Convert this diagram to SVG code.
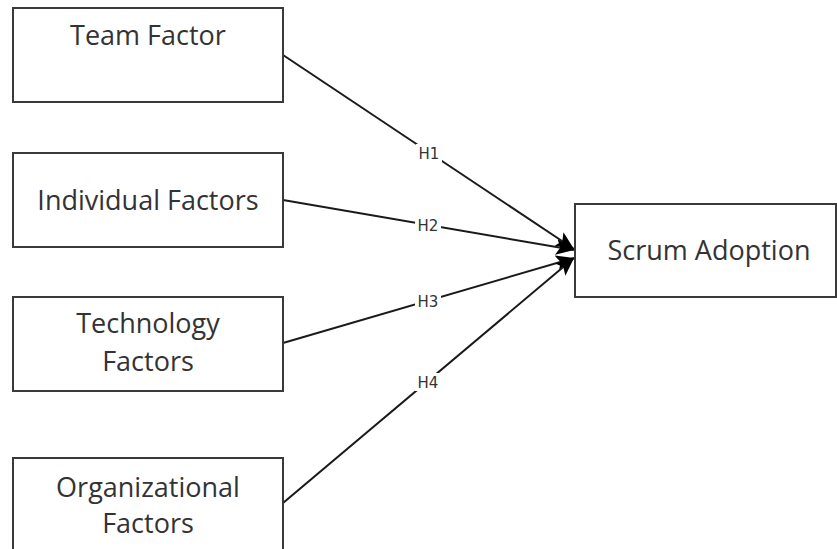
<svg xmlns="http://www.w3.org/2000/svg" width="837" height="549" viewBox="0 0 837 549">
<style>
.box{fill:#fff;stroke:#3a3a3a;stroke-width:2}
.t{font-family:"Open Sans","Noto Sans",sans-serif;font-size:27px;fill:#333;text-anchor:middle}
.edge{fill:none;stroke:#1a1a1a;stroke-width:2}
.lbg{fill:#fff}
.lb{font-family:"DejaVu Sans","Liberation Sans",sans-serif;font-size:15px;fill:#333;text-anchor:middle}
</style>
<defs>
<marker id="ah" markerUnits="userSpaceOnUse" markerWidth="20" markerHeight="16" refX="18" refY="8" orient="auto">
<path d="M0,0 L18,8 L0,16 L4,8 Z" fill="#000"/>
</marker>
</defs>
<rect width="837" height="549" fill="#fff"/>
<g id="connectors">
<path class="edge" d="M283,55 L574,249" marker-end="url(#ah)"/>
<path class="edge" d="M283,200 L574,250" marker-end="url(#ah)"/>
<path class="edge" d="M283,343 L574,258" marker-end="url(#ah)"/>
<path class="edge" d="M283,503 L574,258" marker-end="url(#ah)"/>
<rect class="lbg" x="416" y="144" width="26" height="18"/>
<text class="lb" x="429" y="159">H1</text>
<rect class="lbg" x="415" y="216" width="26" height="18"/>
<text class="lb" x="428" y="231">H2</text>
<rect class="lbg" x="415" y="292" width="26" height="18"/>
<text class="lb" x="428" y="307">H3</text>
<rect class="lbg" x="415" y="373" width="26" height="18"/>
<text class="lb" x="428" y="388">H4</text>
</g>
<g id="team">
<rect class="box" x="13" y="8" width="270" height="94"/>
<text class="t" x="148" y="45">Team Factor</text>
</g>
<g id="individual">
<rect class="box" x="13" y="153" width="270" height="94"/>
<text class="t" x="148" y="210">Individual Factors</text>
</g>
<g id="technology">
<rect class="box" x="13" y="297" width="270" height="94"/>
<text class="t" x="148" y="333">Technology</text>
<text class="t" x="148" y="371">Factors</text>
</g>
<g id="organizational">
<rect class="box" x="13" y="458" width="270" height="100"/>
<text class="t" x="148" y="497">Organizational</text>
<text class="t" x="148" y="533">Factors</text>
</g>
<g id="scrum">
<rect class="box" x="575" y="204" width="261" height="93"/>
<text class="t" x="709" y="260">Scrum Adoption</text>
</g>
</svg>
